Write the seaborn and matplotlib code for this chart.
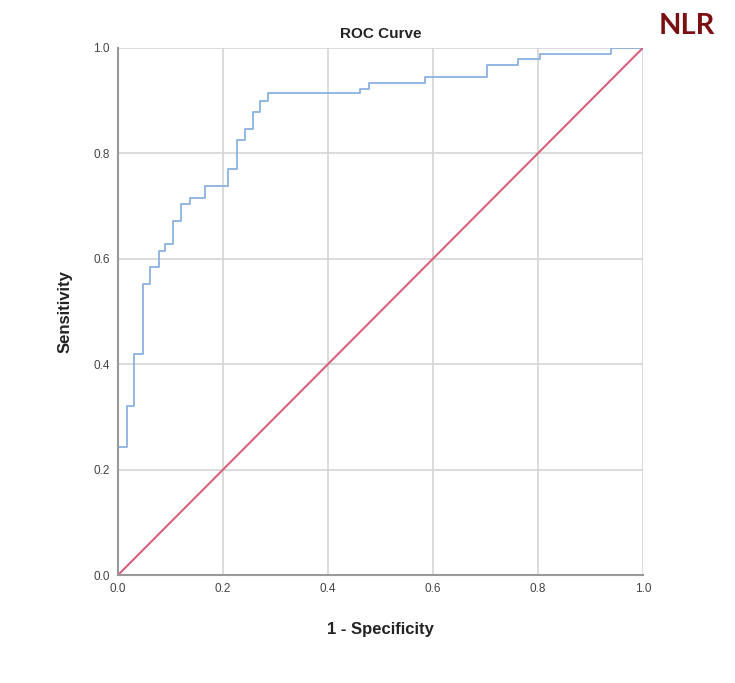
import pandas as pd
import seaborn as sns
import matplotlib
matplotlib.use("Agg")
import matplotlib.pyplot as plt


#1. Data (corners of the ROC staircase)
fpr = [0.0, 0.0, 0.017, 0.031, 0.047, 0.061, 0.079, 0.090, 0.105, 0.121, 0.137, 0.166,
       0.210, 0.226, 0.242, 0.258, 0.270, 0.286, 0.461, 0.479, 0.585, 0.702, 0.762,
       0.804, 0.940, 1.0]
tpr = [0.0, 0.243, 0.320, 0.419, 0.552, 0.584, 0.615, 0.627, 0.672, 0.703, 0.716, 0.737,
       0.770, 0.825, 0.846, 0.879, 0.899, 0.914, 0.921, 0.934, 0.945, 0.968, 0.979,
       0.989, 1.0, 1.0]
ref_x = [0.0, 1.0]
ref_y = [0.0, 1.0]
ticks = [0.0, 0.2, 0.4, 0.6, 0.8, 1.0]

roc = pd.DataFrame({'fpr': fpr, 'tpr': tpr})
ref = pd.DataFrame({'x': ref_x, 'y': ref_y})


#2. Plotting
sns.set_style("white")
plt.rcParams['font.family'] = ['Liberation Sans', 'DejaVu Sans']

fig = plt.figure(figsize=(7.35, 6.83), dpi=100)
ax = fig.add_axes([0.1605, 0.158, 0.7143, 0.772])

ax.grid(True, color='#d4d4d4', linewidth=1.2)
ax.set_axisbelow(True)

sns.lineplot(x='fpr', y='tpr', data=roc, estimator=None, sort=False,
             drawstyle='steps-post', color='#8ab2e0', linewidth=1.3, ax=ax)
sns.lineplot(x='x', y='y', data=ref, estimator=None, sort=False,
             color='#d9607e', linewidth=1.5, ax=ax)

ax.set_xlim(0, 1)
ax.set_ylim(0, 1)
ax.set_xticks(ticks)
ax.set_yticks(ticks)
ax.set_xticklabels([f'{t:.1f}' for t in ticks], fontsize=8.5, color='#444444')
ax.set_yticklabels([f'{t:.1f}' for t in ticks], fontsize=8.5, color='#444444')
ax.tick_params(length=3, color='#999999', pad=3)

for side in ['top', 'right']:
    ax.spines[side].set_visible(False)
for side in ['left', 'bottom']:
    ax.spines[side].set_color('#999999')
    ax.spines[side].set_linewidth(1.5)

ax.set_title('ROC Curve', fontsize=11, fontweight='bold', color='#222222', pad=7)
ax.set_xlabel('1 - Specificity', fontsize=12, fontweight='bold', color='#222222', labelpad=19)
ax.set_ylabel('Sensitivity', fontsize=12, fontweight='bold', color='#222222', labelpad=15)

fig.text(0.935, 0.962, 'NLR', fontsize=21, fontweight='bold', color='#7a1012',
         ha='center', va='center', family=['Lato', 'DejaVu Sans'])

plt.savefig('out.png', dpi=100)
